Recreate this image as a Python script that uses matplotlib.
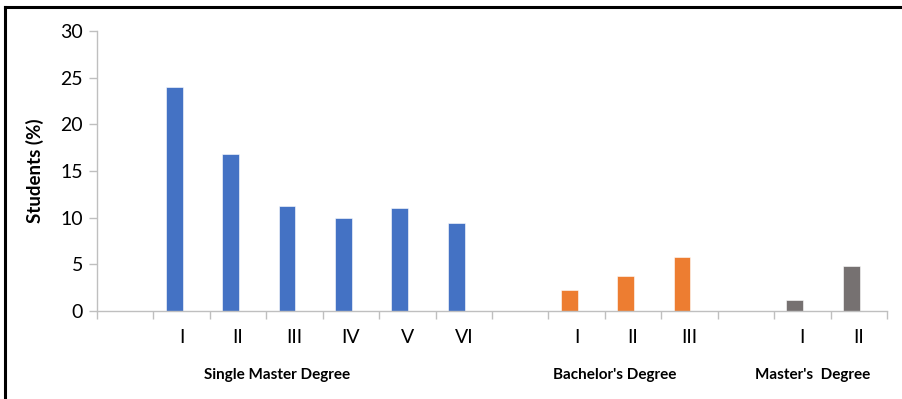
import matplotlib
matplotlib.use("Agg")
import matplotlib.pyplot as plt
import matplotlib.transforms as mtransforms
from matplotlib.lines import Line2D

plt.rcParams["font.family"] = ["Lato", "DejaVu Sans"]

groups = ["Single Master Degree", "Bachelor's Degree", "Master's  Degree"]
smd_labels = ["I", "II", "III", "IV", "V", "VI"]
smd_values = [24.0, 16.8, 11.3, 10.0, 11.0, 9.4]
bd_labels = ["I", "II", "III"]
bd_values = [2.2, 3.8, 5.8]
md_labels = ["I", "II"]
md_values = [1.2, 4.8]

colors = ["#4472C4", "#ED7D31", "#767171"]
group_label_x = [2.69, 8.68, 12.19]

fig = plt.figure(figsize=(9.03, 3.99), dpi=100)
ax = fig.add_axes([0.1074, 0.2206, 0.8749, 0.7017])

# one empty slot in front of every group, then one slot per bar
pos = 0
tick_pos, tick_lab = [], []
for labels, values, color in zip([smd_labels, bd_labels, md_labels],
                                 [smd_values, bd_values, md_values], colors):
    pos += 1
    xs = list(range(pos, pos + len(values)))
    ax.bar([x - 0.133 for x in xs], values, width=0.30, color=color,
           edgecolor="white", linewidth=0.4)
    tick_pos += xs
    tick_lab += labels
    pos += len(values)

n_slots = pos
ax.set_xlim(-0.5, n_slots - 0.5)
ax.set_ylim(0, 30)
ax.set_yticks(range(0, 31, 5))

ax.set_xticks([i - 0.5 for i in range(n_slots + 1)])
ax.set_xticklabels([])
ax.set_xticks(tick_pos, minor=True)
ax.set_xticklabels(tick_lab, minor=True)
ax.tick_params(axis="x", which="major", length=6, color="#BFBFBF", width=1)
ax.tick_params(axis="x", which="minor", length=0, pad=13, labelsize=14)
ax.tick_params(axis="y", length=6, color="#BFBFBF", width=1, labelsize=14, pad=4)

for side in ["top", "right"]:
    ax.spines[side].set_visible(False)
for side in ["left", "bottom"]:
    ax.spines[side].set_color("#BFBFBF")
    ax.spines[side].set_linewidth(1)

ax.set_ylabel("Students (%)", fontsize=13.5, fontweight="bold", labelpad=12)

trans = mtransforms.blended_transform_factory(ax.transData, ax.transAxes)
for name, gx in zip(groups, group_label_x):
    ax.text(gx, -0.228, name, transform=trans, ha="center", va="center",
            fontsize=11, fontweight="bold")

# frame lines along the left and top edges
fig.add_artist(Line2D([5 / 903, 5 / 903], [0, 1 - 6.5 / 399], color="black", lw=2.2))
fig.add_artist(Line2D([5 / 903, 1], [1 - 6.5 / 399, 1 - 6.5 / 399], color="black", lw=2.2))

fig.savefig("out.png", dpi=100)
